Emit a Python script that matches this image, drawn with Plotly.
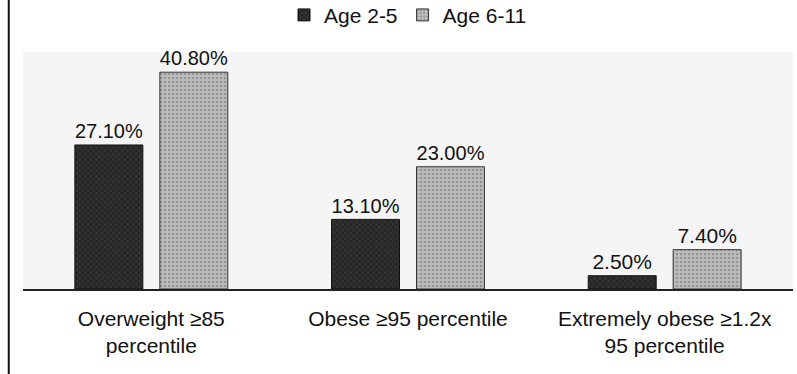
import plotly.graph_objects as go

# Prevalence by weight category and age group (%)
categories = ["Overweight ≥85<br>percentile", "Obese ≥95 percentile", "Extremely obese ≥1.2x<br>95 percentile"]
age_2_5 = [27.1, 13.1, 2.5]
age_6_11 = [40.8, 23.0, 7.4]

FONT = "Liberation Sans, Arial, sans-serif"

fig = go.Figure()
fig.add_trace(go.Bar(
    x=categories, y=age_2_5, name="Age 2-5",
    marker=dict(color="#262626", line=dict(color="#111111", width=1),
                pattern=dict(shape="x", fgcolor="#8a8a8a", size=4, solidity=0.15)),
    texttemplate="%{y:.2f}%", textposition="outside", cliponaxis=False,
    textfont=dict(size=21, color="#111111", family=FONT),
))
fig.add_trace(go.Bar(
    x=categories, y=age_6_11, name="Age 6-11",
    marker=dict(color="#bdbdbd", line=dict(color="#333333", width=1),
                pattern=dict(shape=".", fgcolor="#6e6e6e", size=4, solidity=0.35)),
    texttemplate="%{y:.2f}%", textposition="outside", cliponaxis=False,
    textfont=dict(size=21, color="#111111", family=FONT),
))

# Vertical frame line at the left edge of the figure
fig.add_shape(type="line", xref="paper", yref="paper",
              x0=-0.0185, x1=-0.0185, y0=-0.36, y1=1.22,
              line=dict(color="#111111", width=2))

fig.update_layout(
    width=797, height=374,
    margin=dict(l=23, r=4, t=52, b=85, autoexpand=False),
    paper_bgcolor="white",
    plot_bgcolor="#f5f5f5",
    barmode="group", bargap=0.338, bargroupgap=0.2,
    font=dict(family=FONT, size=21, color="#111111"),
    showlegend=True,
    legend=dict(orientation="h", x=0.5, xanchor="center", y=1.155, yanchor="middle",
                font=dict(size=21, family=FONT), itemwidth=30,
                bgcolor="rgba(0,0,0,0)"),
    xaxis=dict(showline=True, linecolor="#222222", linewidth=1.5, ticks="",
               ticklabelstandoff=10, automargin=False,
               tickfont=dict(size=21, family=FONT, color="#111111"), showgrid=False),
    yaxis=dict(range=[0, 44.6], visible=False, showgrid=False, zeroline=False,
               automargin=False),
)

fig.write_html("out.html")
